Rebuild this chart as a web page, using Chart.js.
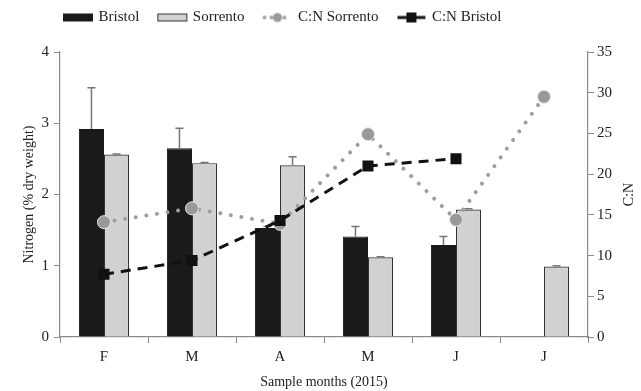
<!DOCTYPE html>
<html>
<head>
<meta charset="utf-8">
<script src="https://cdn.jsdelivr.net/npm/chart.js@4"></script>
<style>
  html, body { margin: 0; padding: 0; background: #fff; }
  #wrap { width: 641px; height: 391px; }
</style>
</head>
<body>
<div id="wrap"><canvas id="nChart" width="641" height="391"></canvas></div>
<script>
// --- data ---
const months = ['F', 'M', 'A', 'M', 'J', 'J'];
const bristolN = [2.92, 2.65, 1.53, 1.41, 1.29, null];
const bristolErr = [0.58, 0.28, 0.02, 0.14, 0.12, null];
const sorrentoN = [2.56, 2.44, 2.41, 1.12, 1.79, 0.99];
const sorrentoErr = [0.01, 0.01, 0.12, 0.005, 0.01, 0.01];
const cnSorrento = [14.1, 15.8, 13.9, 24.9, 14.4, 29.5];
const cnBristol = [7.7, 9.4, 14.3, 21.0, 21.9, null];
const leftTicks = [0, 1, 2, 3, 4];
const rightTicks = [0, 5, 10, 15, 20, 25, 30, 35];

const serif = 'Liberation Serif';
const axisGrey = '#8a8a8a';
const textCol = '#222';

// small canvases used as legend symbols
function icon(draw) {
    const c = document.createElement('canvas');
    c.width = 32; c.height = 14;
    draw(c.getContext('2d'));
    return c;
}
const legendIcons = [
    icon(g => { g.fillStyle = '#1a1a1a'; g.fillRect(1, 3, 30, 8); }),
    icon(g => { g.fillStyle = '#d0d2d1'; g.fillRect(1.5, 3.5, 29, 7); g.strokeStyle = '#333'; g.lineWidth = 1; g.strokeRect(1.5, 3.5, 29, 7); }),
    icon(g => {
        g.fillStyle = '#a6a6a6';
        [3, 10, 23].forEach(x => { g.beginPath(); g.arc(x, 7, 2, 0, Math.PI * 2); g.fill(); });
        g.fillStyle = '#999'; g.beginPath(); g.arc(16, 7, 4.5, 0, Math.PI * 2); g.fill();
    }),
    icon(g => {
        g.strokeStyle = '#111'; g.lineWidth = 3;
        g.beginPath(); g.moveTo(2, 7); g.lineTo(30, 7); g.stroke();
        g.fillStyle = '#111'; g.fillRect(11, 2, 10, 10);
    })
];

// error bars on top of the bars
const errorBars = {
    id: 'errorBars',
    afterDatasetDraw(chart, args) {
        const ds = chart.data.datasets[args.index];
        if (!ds.errors) return;
        const yScale = chart.scales[ds.yAxisID];
        const ctx = chart.ctx;
        ctx.save();
        ctx.strokeStyle = '#777';
        ctx.lineWidth = 1.5;
        args.meta.data.forEach((bar, i) => {
            const v = ds.data[i], e = ds.errors[i];
            if (v == null || e == null) return;
            const yTop = yScale.getPixelForValue(v + e);
            ctx.beginPath();
            ctx.moveTo(bar.x, bar.y);
            ctx.lineTo(bar.x, yTop);
            ctx.moveTo(bar.x - 4, yTop);
            ctx.lineTo(bar.x + 4, yTop);
            ctx.stroke();
        });
        ctx.restore();
    }
};

// legend: extra room below it, and moved to where the figure has it
const legendPlace = {
    id: 'legendPlace',
    beforeInit(chart) {
        const fit = chart.legend.fit;
        chart.legend.fit = function () {
            fit.call(this);
            this.height += 7;
        };
    },
    afterLayout(chart) {
        const lg = chart.legend;
        lg.left = 45;
        lg.top = -10;
    }
};

// right-hand title, reading upwards like the left one
const rightTitle = {
    id: 'rightTitle',
    afterDraw(chart) {
        const s = chart.scales.y1;
        const ctx = chart.ctx;
        ctx.save();
        ctx.translate(629, (s.top + s.bottom) / 2);
        ctx.rotate(-Math.PI / 2);
        ctx.fillStyle = textCol;
        ctx.font = '14px "' + serif + '"';
        ctx.textAlign = 'center';
        ctx.textBaseline = 'middle';
        ctx.fillText('C:N', 0, 0);
        ctx.restore();
    }
};

const ctx = document.getElementById('nChart').getContext('2d');
new Chart(ctx, {
    type: 'bar',
    data: {
        labels: months,
        datasets: [
            {
                label: 'Bristol', data: bristolN, errors: bristolErr, yAxisID: 'y',
                backgroundColor: '#1a1a1a', borderColor: '#1a1a1a', borderWidth: 1,
                categoryPercentage: 0.57, barPercentage: 1, order: 2
            },
            {
                label: 'Sorrento', data: sorrentoN, errors: sorrentoErr, yAxisID: 'y',
                backgroundColor: '#d0d2d1', borderColor: '#333', borderWidth: 1.2,
                categoryPercentage: 0.57, barPercentage: 1, order: 2
            },
            {
                type: 'line', label: 'C:N Sorrento', data: cnSorrento, yAxisID: 'y1',
                borderColor: '#9e9e9e', borderWidth: 4, borderDash: [0.01, 10.7], borderCapStyle: 'round',
                pointStyle: 'circle', pointRadius: 6.5, pointBackgroundColor: '#999',
                pointBorderColor: '#e6e6e6', pointBorderWidth: 1, fill: false, order: 1
            },
            {
                type: 'line', label: 'C:N Bristol', data: cnBristol, yAxisID: 'y1',
                borderColor: '#111', borderWidth: 3, borderDash: [10, 7],
                pointStyle: 'rect', pointRadius: 7.8, pointBackgroundColor: '#111',
                pointBorderColor: '#111', pointBorderWidth: 0, fill: false, order: 0
            }
        ]
    },
    options: {
        responsive: false,
        animation: false,
        layout: { padding: { top: 0, right: 2, left: 4, bottom: 0 } },
        plugins: {
            tooltip: { enabled: false },
            legend: {
                position: 'top',
                align: 'start',
                labels: {
                    usePointStyle: true,
                    pointStyleWidth: 26,
                    boxHeight: 14,
                    padding: 20,
                    color: textCol,
                    font: { family: serif, size: 15 },
                    generateLabels(chart) {
                        const items = Chart.defaults.plugins.legend.labels.generateLabels(chart);
                        items.sort((a, b) => a.datasetIndex - b.datasetIndex);
                        items.forEach(it => { it.pointStyle = legendIcons[it.datasetIndex]; });
                        return items;
                    }
                }
            }
        },
        scales: {
            x: {
                offset: true,
                afterFit: s => { s.height = 54; },
                grid: { drawOnChartArea: false, offset: true, color: axisGrey, tickLength: 6 },
                border: { color: axisGrey, width: 1.2 },
                ticks: { color: textCol, font: { family: serif, size: 15 }, padding: 5 },
                title: { display: true, text: 'Sample months (2015)', color: textCol, font: { family: serif, size: 14 }, padding: { top: 2, bottom: 0 } }
            },
            y: {
                position: 'left', min: 0, max: 4,
                afterBuildTicks: s => { s.ticks = leftTicks.map(v => ({ value: v })); },
                afterFit: s => { s.width = 56; },
                grid: { drawOnChartArea: false, color: axisGrey, tickLength: 6 },
                border: { color: axisGrey, width: 1.2 },
                ticks: { color: textCol, font: { family: serif, size: 15 }, padding: 5 },
                title: { display: true, text: 'Nitrogen (% dry weight)', color: textCol, font: { family: serif, size: 14 }, padding: { top: 17, bottom: 0 } }
            },
            y1: {
                position: 'right', min: 0, max: 35,
                afterBuildTicks: s => { s.ticks = rightTicks.map(v => ({ value: v })); },
                afterFit: s => { s.width = 51; },
                grid: { drawOnChartArea: false, color: axisGrey, tickLength: 6 },
                border: { color: axisGrey, width: 1.2 },
                ticks: { color: textCol, font: { family: serif, size: 15 }, padding: 3 }
            }
        }
    },
    plugins: [errorBars, legendPlace, rightTitle]
});
</script>
</body>
</html>
